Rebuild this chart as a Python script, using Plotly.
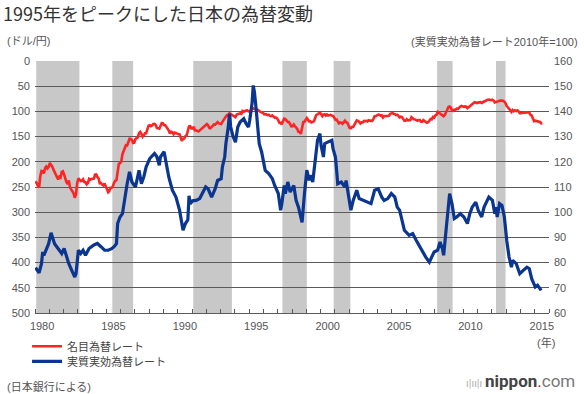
import pandas as pd
import plotly.graph_objects as go

# ---------------- data ----------------
# Nominal JPY per USD, monthly, from 1980-01
nominal_start = "1980-01-01"
nominal_rate = [
    238.6, 244.0, 248.1, 251.0, 229.0, 218.1, 219.0, 223.0, 212.3, 209.3, 213.1, 210.0,
    202.2, 205.7, 208.8, 215.1, 220.6, 224.2, 232.8, 235.2, 229.6, 231.3, 220.0, 218.8,
    225.2, 234.8, 240.5, 244.2, 236.9, 251.1, 255.1, 258.7, 262.7, 271.3, 264.1, 242.5,
    232.5, 235.6, 238.3, 237.6, 234.6, 240.2, 240.6, 244.8, 242.3, 233.9, 235.5, 234.3,
    233.9, 233.3, 225.6, 225.2, 230.4, 233.1, 242.6, 242.2, 245.2, 246.9, 242.8, 247.9,
    254.1, 260.5, 258.4, 251.7, 251.6, 248.9, 241.7, 237.5, 236.5, 214.7, 204.1, 202.8,
    199.9, 184.9, 178.7, 175.1, 167.0, 167.5, 158.6, 154.2, 154.7, 156.5, 162.7, 162.1,
    154.5, 153.5, 151.6, 143.0, 140.5, 144.5, 150.3, 147.3, 143.3, 143.3, 135.4, 128.3,
    127.4, 129.3, 127.9, 125.0, 124.8, 127.0, 133.0, 133.6, 134.4, 128.9, 123.2, 123.6,
    127.2, 127.3, 130.5, 132.5, 137.9, 143.9, 140.4, 141.5, 145.1, 141.9, 143.5, 143.7,
    145.0, 145.7, 153.3, 158.5, 154.0, 153.7, 149.0, 147.5, 138.4, 129.6, 129.2, 133.9,
    133.7, 130.5, 137.4, 137.1, 138.2, 139.8, 137.8, 136.8, 134.3, 130.8, 129.6, 128.0,
    125.0, 127.6, 132.7, 133.5, 130.8, 126.8, 125.9, 126.2, 122.6, 121.2, 123.8, 124.1,
    124.9, 120.8, 117.0, 112.4, 110.3, 107.4, 107.7, 103.8, 105.4, 106.9, 107.8, 109.7,
    111.5, 106.3, 105.1, 103.5, 103.8, 104.7, 99.1, 100.6, 98.8, 98.4, 98.0, 100.2,
    100.0, 98.5, 96.0, 94.0, 95.0, 95.0, 96.0, 97.0, 100.0, 101.0, 101.9, 101.9,
    105.8, 105.7, 105.9, 107.4, 106.5, 108.8, 109.2, 107.9, 109.9, 112.4, 112.3, 113.9,
    117.9, 122.9, 122.7, 125.6, 119.2, 114.3, 115.4, 117.9, 120.9, 121.1, 125.4, 129.7,
    129.5, 125.9, 129.0, 131.8, 135.0, 140.3, 140.7, 144.7, 134.5, 121.1, 120.6, 117.4,
    113.2, 116.7, 119.7, 119.7, 122.0, 120.7, 119.7, 113.2, 106.9, 105.9, 104.7, 102.6,
    105.3, 109.4, 106.3, 105.6, 108.3, 106.1, 108.2, 108.1, 106.8, 108.4, 108.9, 112.2,
    116.7, 116.1, 121.2, 123.8, 121.9, 122.3, 124.5, 121.5, 118.5, 121.5, 122.4, 127.6,
    132.7, 133.6, 131.1, 130.8, 126.4, 123.3, 117.9, 119.0, 120.5, 123.9, 121.6, 121.9,
    118.8, 119.3, 118.7, 119.9, 117.4, 118.3, 118.7, 118.7, 114.8, 109.5, 109.2, 107.7,
    106.3, 106.7, 108.5, 107.7, 112.2, 109.4, 109.4, 110.2, 110.1, 108.8, 104.7, 103.8,
    103.3, 104.9, 105.3, 107.4, 106.6, 108.8, 111.9, 110.6, 111.2, 114.9, 118.5, 118.5,
    115.5, 117.9, 117.3, 117.1, 111.5, 114.5, 115.6, 115.9, 117.2, 118.6, 117.3, 117.3,
    120.6, 120.5, 117.3, 118.8, 120.8, 122.6, 121.6, 116.7, 115.0, 115.9, 111.0, 112.3,
    107.8, 107.1, 100.8, 102.7, 104.4, 106.9, 106.9, 109.4, 106.6, 100.0, 96.8, 91.4,
    90.4, 92.5, 97.9, 99.0, 96.6, 96.6, 94.5, 94.9, 91.3, 90.4, 89.1, 89.9,
    91.1, 90.2, 90.7, 93.6, 91.8, 90.8, 87.5, 85.4, 84.4, 81.8, 82.5, 83.4,
    82.6, 82.5, 81.6, 83.2, 81.1, 80.4, 79.3, 77.1, 76.8, 76.7, 77.5, 77.8,
    76.9, 78.5, 82.4, 81.3, 79.7, 79.3, 79.0, 78.7, 78.2, 78.9, 80.9, 83.6,
    89.2, 93.1, 94.9, 97.8, 101.0, 97.3, 99.7, 97.8, 99.2, 97.8, 100.1, 103.5,
    103.5, 102.0, 102.3, 102.5, 101.8, 102.1, 101.8, 102.9, 107.1, 108.1, 116.2, 119.4,
    118.3, 118.8, 120.4, 119.5, 120.8, 123.7, 123.3,
]

# Real effective exchange rate (2010=100)
real_dates = [
    "1980-01", "1980-03", "1980-04", "1980-06", "1980-07", "1980-08", "1980-10", "1980-12",
    "1981-02", "1981-03", "1981-05", "1981-07", "1981-09", "1981-11",
    "1982-01", "1982-03", "1982-05", "1982-08", "1982-10", "1982-11",
    "1983-01", "1983-03", "1983-05", "1983-07", "1983-10",
    "1984-02", "1984-05", "1984-08", "1984-11",
    "1985-02", "1985-05", "1985-07", "1985-09", "1985-10", "1985-12",
    "1986-02", "1986-04", "1986-06", "1986-08", "1986-10",
    "1987-01", "1987-03", "1987-04", "1987-06", "1987-08", "1987-10",
    "1988-01", "1988-05", "1988-07", "1988-09", "1988-10",
    "1989-01", "1989-03", "1989-05", "1989-08", "1989-11",
    "1990-02", "1990-03", "1990-05", "1990-07", "1990-09", "1990-10", "1990-11",
    "1991-01", "1991-04", "1991-07", "1991-09", "1991-12",
    "1992-02", "1992-05", "1992-08", "1992-10",
    "1993-01", "1993-02", "1993-04", "1993-05", "1993-07", "1993-08", "1993-09", "1993-11",
    "1994-01", "1994-03", "1994-05", "1994-08", "1994-10", "1994-12",
    "1995-01", "1995-03", "1995-04", "1995-05", "1995-06", "1995-08", "1995-09", "1995-11",
    "1996-02", "1996-05", "1996-08", "1996-10",
    "1997-01", "1997-03", "1997-04", "1997-06", "1997-07", "1997-09", "1997-11",
    "1998-02", "1998-04", "1998-06", "1998-08", "1998-09", "1998-11",
    "1999-01", "1999-03", "1999-04", "1999-06", "1999-08", "1999-10", "1999-12",
    "2000-01", "2000-03", "2000-04", "2000-07", "2000-10", "2000-11",
    "2001-01", "2001-02", "2001-03", "2001-06", "2001-09", "2001-10", "2001-12",
    "2002-02", "2002-04", "2002-07", "2002-09", "2002-12",
    "2003-04", "2003-07", "2003-10",
    "2004-01", "2004-04", "2004-06", "2004-09", "2004-12",
    "2005-03", "2005-05", "2005-07", "2005-09", "2005-11",
    "2006-03", "2006-06", "2006-09", "2006-12",
    "2007-02", "2007-05", "2007-08", "2007-10", "2007-12",
    "2008-03", "2008-05", "2008-07", "2008-08", "2008-10", "2008-12",
    "2009-01", "2009-03", "2009-05", "2009-07", "2009-10",
    "2010-01", "2010-04", "2010-06", "2010-08", "2010-11",
    "2011-01", "2011-04", "2011-06", "2011-10",
    "2012-01", "2012-03", "2012-04", "2012-05", "2012-07", "2012-09", "2012-11",
    "2013-01", "2013-03", "2013-05", "2013-06", "2013-09", "2013-12",
    "2014-03", "2014-06", "2014-08", "2014-10",
    "2015-01", "2015-03", "2015-06",
]
real_rate = [
    78.0, 76.9, 75.9, 79.6, 84.2, 82.9, 85.5, 87.5,
    91.8, 90.2, 87.5, 86.2, 84.9, 83.6,
    85.6, 82.3, 79.6, 76.3, 74.3, 75.6,
    84.9, 83.6, 84.9, 82.9, 85.6,
    87.0, 87.6, 86.3, 84.9,
    84.9, 85.5, 86.3, 87.5, 95.5, 98.1,
    99.4, 106.0, 111.3, 116.0, 112.0,
    110.0, 115.3, 116.6, 111.3, 114.0, 118.0,
    121.3, 123.3, 122.0, 118.6, 122.0,
    124.0, 119.3, 114.0, 108.7, 106.0,
    100.8, 98.0, 92.8, 95.5, 97.0, 106.5, 103.4,
    104.5, 104.7, 105.4, 107.4, 110.0,
    109.3, 106.0, 109.3, 112.6,
    113.3, 118.0, 121.9, 127.2, 133.8, 139.1, 133.8, 130.0,
    127.8, 133.8, 135.8, 137.1, 135.1, 133.8,
    136.5, 143.1, 150.3, 147.7, 143.1, 133.8, 127.2, 123.9,
    116.6, 115.3, 113.3, 110.6,
    107.4, 100.8, 103.4, 110.6, 107.4, 112.0, 108.0,
    110.6, 104.7, 102.0, 98.1, 96.0, 107.4,
    116.7, 112.6, 114.6, 112.0, 120.6, 128.5, 131.2,
    126.5, 121.9, 127.2, 127.9, 128.5, 125.2,
    121.9, 116.6, 111.3, 112.0, 110.0, 112.6, 106.0,
    100.8, 104.7, 108.7, 105.4, 104.7,
    104.0, 103.4, 108.7,
    109.3, 106.0, 104.7, 105.4, 107.4,
    106.0, 102.0, 100.8, 96.8, 92.8,
    90.8, 91.5, 88.8, 86.2,
    84.2, 82.2, 80.2, 82.2, 84.2,
    84.9, 88.2, 85.5, 82.9, 92.8, 104.7,
    107.4, 103.4, 97.5, 98.1, 99.4,
    98.1, 95.5, 99.4, 102.0, 104.0,
    100.8, 98.1, 102.0, 106.0,
    104.7, 99.4, 102.0, 98.1, 103.4, 102.7, 98.1,
    88.8, 82.2, 78.2, 80.9, 79.6, 75.6,
    76.9, 78.2, 77.6, 73.6,
    70.3, 71.0, 69.0,
]

# Recession periods (shaded)
recession_start = ["1980-02-01", "1985-06-01", "1991-02-01", "1997-05-01", "2000-12-01", "2008-03-01", "2012-04-15"]
recession_end = ["1983-02-10", "1986-11-15", "1993-10-15", "1999-01-15", "2002-02-01", "2009-04-01", "2012-12-15"]

year_labels = [1980, 1985, 1990, 1995, 2000, 2005, 2010, 2015]
left_ticks = [0, 50, 100, 150, 200, 250, 300, 350, 400, 450, 500]
right_ticks = [60, 70, 80, 90, 100, 110, 120, 130, 140, 150, 160]

nominal_name = "名目為替レート"
real_name = "実質実効為替レート"

# ---------------- figure ----------------
FONT = "Liberation Sans, Noto Sans CJK JP, sans-serif"
JFONT = "Noto Sans CJK JP, sans-serif"
RED = "#ff2424"
BLUE = "#0a3590"
GRID = "#5a5a5a"
TXT = "#555555"

nominal_dates = pd.date_range(nominal_start, periods=len(nominal_rate), freq="MS") + pd.Timedelta(days=14)

fig = go.Figure()
fig.add_trace(go.Scatter(
    x=nominal_dates, y=nominal_rate, name=nominal_name, mode="lines",
    line=dict(color=RED, width=2.6), yaxis="y", legend="legend",
))
fig.add_trace(go.Scatter(
    x=pd.to_datetime(real_dates) + pd.Timedelta(days=14), y=real_rate, name=real_name, mode="lines",
    line=dict(color=BLUE, width=3.2), yaxis="y2", legend="legend2",
))

for s, e in zip(recession_start, recession_end):
    fig.add_shape(type="rect", xref="x", yref="paper", x0=s, x1=e, y0=0, y1=1,
                  fillcolor="#c8c8c8", line=dict(width=0), layer="below")

legend_common = dict(x=(25 - 33) / 518, xanchor="left", yanchor="middle", orientation="v",
                     font=dict(family=JFONT, size=11, color="#444444"),
                     bgcolor="rgba(0,0,0,0)", itemwidth=30)

fig.update_layout(
    width=584, height=394,
    margin=dict(l=33, r=33, t=61, b=81),
    paper_bgcolor="white", plot_bgcolor="white",
    font=dict(family=FONT, size=11, color=TXT),
    title=dict(text="1995年をピークにした日本の為替変動", x=3 / 584, xanchor="left",
               y=1 - 15 / 394, yanchor="middle",
               font=dict(family=JFONT, size=18, color="#333333")),
    showlegend=True,
    legend=dict(y=(312.7 - 346) / 252, **legend_common),
    legend2=dict(y=(312.7 - 361) / 252, **legend_common),
    xaxis=dict(
        type="date", range=["1980-01-01", "2016-01-01"],
        tickmode="array",
        tickvals=[f"{y}-07-01" for y in year_labels],
        ticktext=[str(y) for y in year_labels],
        ticks="", tickfont=dict(size=11, color=TXT), ticklabelstandoff=3,
        minor=dict(tickmode="linear", tick0="1980-01-01", dtick="M12",
                   ticks="inside", ticklen=4, tickcolor=GRID, tickwidth=1, showgrid=False),
        showgrid=False, zeroline=False,
        showline=True, linecolor=GRID, linewidth=1,
    ),
    yaxis=dict(
        range=[500, 0], tickmode="array", tickvals=left_ticks,
        showgrid=True, gridcolor=GRID, gridwidth=1, zeroline=False,
        showline=False, ticks="", tickfont=dict(size=11, color=TXT),
        ticklabelstandoff=4,
    ),
    yaxis2=dict(
        range=[60, 160], tickmode="array", tickvals=right_ticks,
        overlaying="y", side="right", anchor="x",
        showgrid=False, zeroline=False, showline=False, ticks="",
        tickfont=dict(size=11, color=TXT), ticklabelstandoff=4,
    ),
)

ann = [
    dict(text="(ドル/円)", x=-30 / 518, y=(312.7 - 41) / 252, xanchor="left", yanchor="middle"),
    dict(text="(実質実効為替レート2010年=100)", x=(582 - 33) / 518, y=(312.7 - 41) / 252,
         xanchor="right", yanchor="middle"),
    dict(text="(年)", x=(548 - 33) / 518, y=(312.7 - 342) / 252, xanchor="center", yanchor="middle"),
    dict(text="(日本銀行による)", x=-30 / 518, y=(312.7 - 386) / 252, xanchor="left", yanchor="middle"),
]
for a in ann:
    fig.add_annotation(xref="paper", yref="paper", showarrow=False,
                       font=dict(family=FONT, size=11, color=TXT), **a)

fig.add_annotation(
    xref="paper", yref="paper", x=(579 - 33) / 518, y=(312.7 - 381) / 252,
    xanchor="right", yanchor="middle", showarrow=False,
    text="<span style='color:#b0b0b0;font-size:11px'>ı|ıı|ı </span><b>nippon</b>"
         "<span style='color:#e60012'>.</span><span style='color:#777777'>com</span>",
    font=dict(family="Roboto, Liberation Sans, sans-serif", size=17, color="#444444"),
)

fig.write_html("out.html", config={"displayModeBar": False},
               post_script="document.body.style.margin='0';document.body.style.padding='0';")
